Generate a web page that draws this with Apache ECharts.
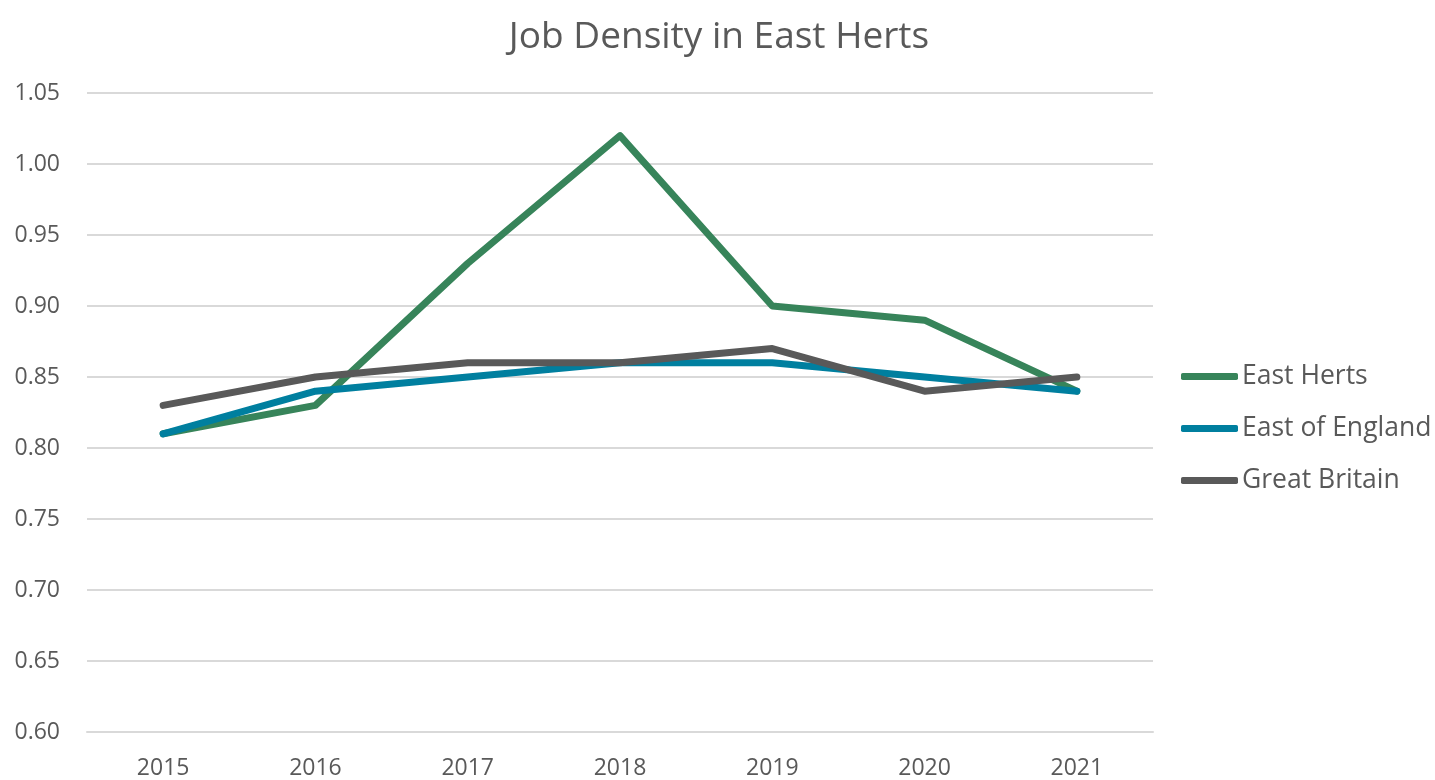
<!DOCTYPE html>
<html>
<head>
<meta charset="utf-8">
<script src="https://cdn.jsdelivr.net/npm/echarts@6/dist/echarts.min.js"></script>
<style>
  html, body { margin: 0; padding: 0; background: #fff; }
  #chart { width: 1435px; height: 780px; }
</style>
</head>
<body>
<div id="chart"></div>
<script>
var years = ['2015', '2016', '2017', '2018', '2019', '2020', '2021'];
var eastHerts = [0.81, 0.83, 0.93, 1.02, 0.90, 0.89, 0.84];
var eastOfEngland = [0.81, 0.84, 0.85, 0.86, 0.86, 0.85, 0.84];
var greatBritain = [0.83, 0.85, 0.86, 0.86, 0.87, 0.84, 0.85];

var font = '"Open Sans", sans-serif';
var chart = echarts.init(document.getElementById('chart'));

function line(name, data, color) {
    return {
        name: name,
        type: 'line',
        data: data,
        showSymbol: false,
        symbol: 'none',
        lineStyle: { width: 7, color: color, cap: 'round', join: 'round' },
        itemStyle: { color: color }
    };
}

var option = {
    animation: false,
    title: {
        text: 'Job Density in East Herts',
        left: 714,
        textAlign: 'center',
        top: 14,
        textStyle: { fontFamily: font, fontSize: 37, fontWeight: 'normal', color: '#595959' }
    },
    legend: {
        orient: 'vertical',
        left: 1176,
        top: 358,
        itemWidth: 57,
        itemHeight: 7,
        itemGap: 25,
        icon: 'roundRect',
        textStyle: { fontFamily: font, fontSize: 26.5, color: '#595959', padding: [0, 0, 0, -1] },
        data: ['East Herts', 'East of England', 'Great Britain']
    },
    grid: { left: 87, right: 282, top: 93, bottom: 46 },
    xAxis: {
        type: 'category',
        data: years,
        boundaryGap: true,
        axisLine: { lineStyle: { color: '#d9d9d9', width: 2 } },
        axisTick: { show: false },
        axisLabel: { fontFamily: font, fontSize: 23, color: '#595959', margin: 25 }
    },
    yAxis: {
        type: 'value',
        min: 0.60,
        max: 1.05,
        interval: 0.05,
        axisLine: { show: false },
        axisTick: { show: false },
        splitLine: { lineStyle: { color: '#d9d9d9', width: 2 } },
        axisLabel: {
            fontFamily: font, fontSize: 23, color: '#595959', margin: 27,
            formatter: function (v) { return v.toFixed(2); }
        }
    },
    series: [
        line('East Herts', eastHerts, '#37845a'),
        line('East of England', eastOfEngland, '#007f9f'),
        line('Great Britain', greatBritain, '#595959')
    ]
};
chart.setOption(option);
</script>
</body>
</html>
